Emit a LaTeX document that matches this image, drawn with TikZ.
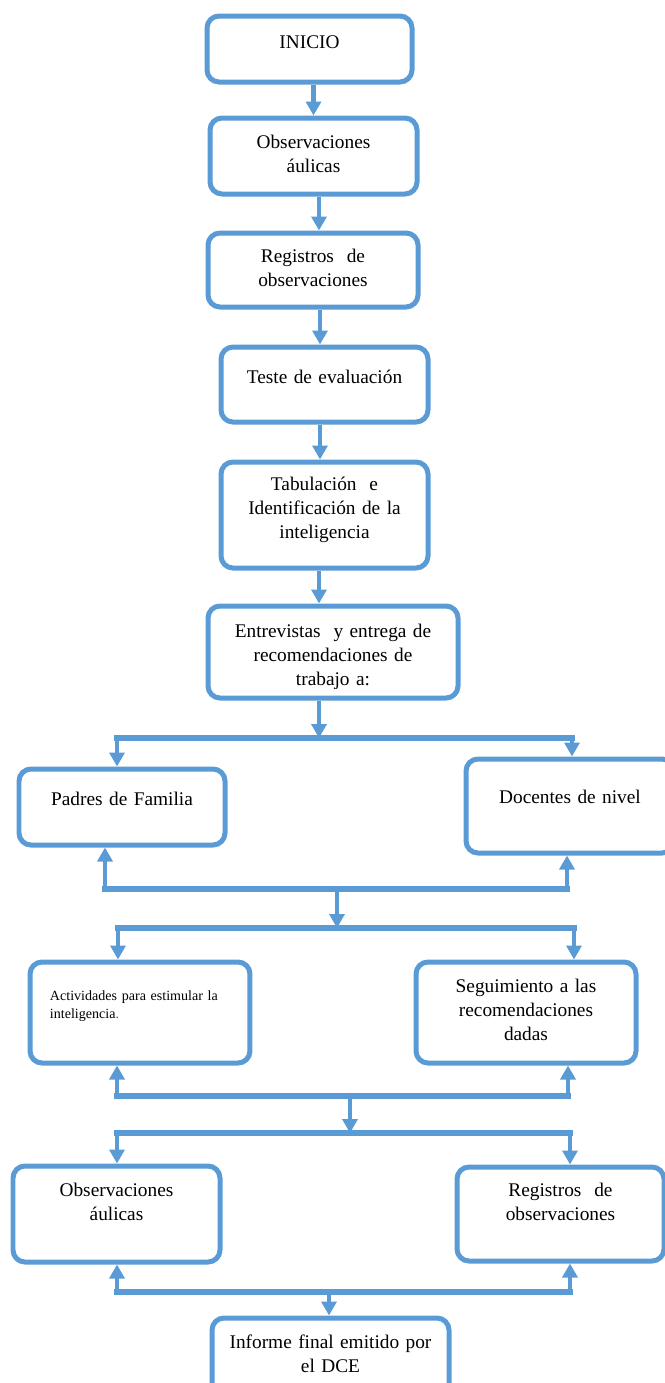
\documentclass[tikz,border=0pt]{standalone}
\usepackage{fontspec}
\setmainfont{Liberation Serif}
\usetikzlibrary{arrows.meta}
\definecolor{flowblue}{RGB}{91,155,213}
\newlength{\px}
\setlength{\px}{0.02cm}

\begin{document}
\begin{tikzpicture}[x=0.02cm, y=-0.02cm,
		box/.style={draw=flowblue, line width=0.1cm, rounded corners=0.24cm, fill=white, inner sep=0pt, align=center, font=\fontsize{11}{13.66}\selectfont},
		bx/.style n args={3}{text width=#1\px, text height=#2\px, text depth=#3\px},
		arr/.style={draw=flowblue, line width=0.09cm, -{Triangle[width=0.3cm,length=0.28cm]}},
		bar/.style={draw=flowblue, line width=0.11cm, line cap=rect}]
			\useasboundingbox (0,0) rectangle (665,1383);
			
			% main column
			\node[box, bx={205}{32}{34}] (ini) at (309.5,49) {INICIO};
			\node[box, bx={207}{30}{46}] (obs1) at (313.5,156) {Observaciones\\áulicas};
			\node[box, bx={210}{29}{45}] (reg1) at (313,270) {Registros\ \ de\\observaciones};
			\node[box, bx={207}{36}{39}] (test) at (324.5,384.5) {Teste de evaluación};
			\node[box, bx={207}{28}{78}] (tab) at (324.5,515) {Tabulación\ \ e\\Identificación de la\\inteligencia};
			\node[box, bx={250}{31}{61}] (ent) at (333,652) {Entrevistas\ \ y entrega de\\recomendaciones de\\trabajo a:};
			
			% branches
			\node[box, bx={206}{36}{40}] (pf) at (122,807) {Padres de Familia};
			\node[box, bx={208}{44}{50}] (doc) at (570,806) {Docentes de nivel};
			\node[box, bx={180}{38.5}{62.5}, inner xsep=0.4cm, align=left, font=\fontsize{8}{10.2}\selectfont] (act) at (140,1012.5) {Actividades para estimular la\\inteligencia{\color{red}.}};
			\node[box, bx={220}{30}{71}] (seg) at (526,1012.5) {Seguimiento a las\\recomendaciones\\dadas};
			\node[box, bx={207}{30}{66}] (obs2) at (116.5,1214) {Observaciones\\áulicas};
			\node[box, bx={207}{29}{65}] (reg2) at (560.5,1214) {Registros\ \ de\\observaciones};
			\node[box, bx={237}{30}{52}] (inf) at (330.5,1359) {Informe final emitido por\\el DCE};
			
			% columns of the down arrows
			\coordinate (k2) at (319,0);
			\coordinate (k3) at (320,0);
			\coordinate (k5) at (337,0);
			\coordinate (k6) at (350,0);
			\coordinate (k7) at (329,0);
			
			\draw[arr] (ini.south -| obs1) -- (obs1.north);
			\draw[arr] (obs1.south -| k2) -- (reg1.north -| k2);
			\draw[arr] (reg1.south -| k3) -- (test.north -| k3);
			\draw[arr] (test.south -| k3) -- (tab.north -| k3);
			\draw[arr] (tab.south -| k2) -- (ent.north -| k2);
			
			% bars
			\coordinate (b1l) at (117,738);
			\coordinate (b1r) at (572,738);
			\coordinate (b2l) at (105,889);
			\coordinate (b2r) at (567,889);
			\coordinate (b3l) at (118,928);
			\coordinate (b3r) at (574,928);
			\coordinate (b4l) at (117,1096);
			\coordinate (b4r) at (568,1096);
			\coordinate (b5l) at (117,1133);
			\coordinate (b5r) at (570,1133);
			\coordinate (b6l) at (117,1292);
			\coordinate (b6r) at (570,1292);
			
			\draw[arr] (ent.south -| k2) -- (b1l -| k2);
			\draw[bar] (b1l) -- (b1r);
			\draw[arr] (b1l) -- (b1l |- pf.north);
			\draw[arr] (b1r) -- (b1r |- doc.north);
			
			\draw[bar] (b2l) -- (b2r);
			\draw[arr] (b2l) -- (b2l |- pf.south);
			\draw[arr] (b2r) -- (b2r |- doc.south);
			\draw[arr] (b2l -| k5) -- (b3l -| k5);
			
			\draw[bar] (b3l) -- (b3r);
			\draw[arr] (b3l) -- (b3l |- act.north);
			\draw[arr] (b3r) -- (b3r |- seg.north);
			
			\draw[bar] (b4l) -- (b4r);
			\draw[arr] (b4l) -- (b4l |- act.south);
			\draw[arr] (b4r) -- (b4r |- seg.south);
			\draw[arr] (b4l -| k6) -- (b5l -| k6);
			
			\draw[bar] (b5l) -- (b5r);
			\draw[arr] (b5l) -- (b5l |- obs2.north);
			\draw[arr] (b5r) -- (b5r |- reg2.north);
			
			\draw[bar] (b6l) -- (b6r);
			\draw[arr] (b6l) -- (b6l |- obs2.south);
			\draw[arr] (b6r) -- (b6r |- reg2.south);
			\draw[arr] (b6l -| k7) -- (inf.north -| k7);
		
		\end{tikzpicture}
\end{document}
